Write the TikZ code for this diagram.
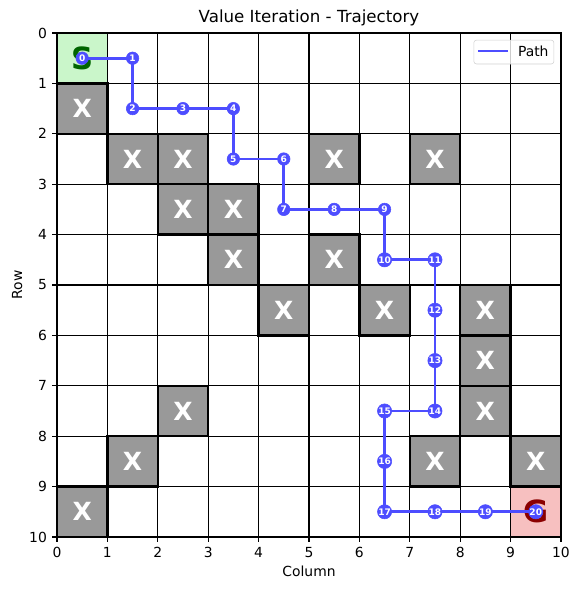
\documentclass[tikz,border=0pt]{standalone}
\usepackage{fontspec}
\setmainfont{DejaVu Sans}
\usetikzlibrary{calc}

\definecolor{startfill}{RGB}{202,246,202}
\definecolor{startedge}{RGB}{40,120,40}
\definecolor{goalfill}{RGB}{247,192,192}
\definecolor{goaledge}{RGB}{180,50,50}
\definecolor{trailblue}{RGB}{77,77,255}

\tikzset{
  cellwall/.style={fill=black!40, draw=black, line width=1.7pt},
  wallmark/.style={text=white, font=\fontsize{18}{18}\selectfont\bfseries},
  trail/.style={draw=trailblue, line width=2pt, line cap=round},
  stepdot/.style={circle, fill=trailblue, draw=trailblue, inner sep=0pt, minimum size=9pt,
    text=white, font=\fontsize{6.5}{7}\selectfont\bfseries},
  ticklbl/.style={font=\fontsize{10}{12}\selectfont, inner sep=0pt},
}

\begin{document}
\begin{tikzpicture}[x=1.2755cm, y=-1.2755cm]
  \useasboundingbox (-1.131,-0.655) rectangle (10.377,11.052);

  % Start and goal cells
  \draw[fill=startfill, draw=startedge, line width=0.8pt] (0,0) rectangle (1,1);
  \draw[fill=goalfill, draw=goaledge, line width=0.8pt] (9,9) rectangle (10,10);

  % Grid lines
  \foreach \k in {1,...,9} {
    \draw[line width=0.8pt] (\k,0) -- (\k,10);
    \draw[line width=0.8pt] (0,\k) -- (10,\k);
  }

  % Obstacles (col/row)
  \foreach \c/\r in {0/1, 1/2, 2/2, 5/2, 7/2, 2/3, 3/3, 3/4, 5/4, 4/5, 6/5, 8/5,
                     8/6, 2/7, 8/7, 1/8, 7/8, 9/8, 0/9} {
    \draw[cellwall] (\c,\r) rectangle (\c+1,\r+1);
    \node[wallmark] (w\c\r) at (\c+0.5,\r+0.5) {X};
  }

  % Start / goal letters
  \node[text={rgb,255:red,0;green,100;blue,0}, font=\fontsize{22}{22}\selectfont\bfseries] (start) at (0.5,0.5) {S};
  \node[text={rgb,255:red,139;green,0;blue,0}, font=\fontsize{22}{22}\selectfont\bfseries] (goal) at (9.5,9.5) {G};

  % Trajectory: way points, then line, then numbered dots
  \foreach \c/\r [count=\i from 0] in {0/0, 1/0, 1/1, 2/1, 3/1, 3/2, 4/2, 4/3, 5/3, 6/3, 6/4,
                                       7/4, 7/5, 7/6, 7/7, 6/7, 6/8, 6/9, 7/9, 8/9, 9/9} {
    \coordinate (s\i) at (\c+0.5,\r+0.5);
  }
  \foreach \i [evaluate=\i as \j using int(\i+1)] in {0,...,19} {
    \draw[trail] (s\i) -- (s\j);
  }
  \foreach \i in {0,...,20} {
    \node[stepdot] (d\i) at (s\i) {\i};
  }

  % Axes frame and ticks
  \draw[line width=0.8pt] (0,0) rectangle (10,10);
  \foreach \k in {0,...,10} {
    \draw[line width=0.8pt] (\k,10) -- (\k,10.0965);
    \node[ticklbl, anchor=north] (xt\k) at (\k,10.195) {\k};
    \draw[line width=0.8pt] (0,\k) -- (-0.0965,\k);
    \node[ticklbl, anchor=east] (yt\k) at (-0.195,\k) {\k};
  }
  \node[font=\fontsize{10}{12}\selectfont] (xlab) at (5,10.69) {Column};
  \node[font=\fontsize{10}{12}\selectfont, rotate=90] (ylab) at (-0.79,5) {Row};
  \node[font=\fontsize{12}{14}\selectfont] (title) at (5,-0.30) {Value Iteration - Trajectory};

  % Legend
  \draw[rounded corners=2pt, draw=black!18, fill=white, fill opacity=0.8] (8.27,0.14) rectangle (9.86,0.615);
  \coordinate (la) at (8.35,0.357);
  \coordinate (lb) at (8.95,0.357);
  \draw[trail, line cap=butt] (la) -- (lb);
  \node[font=\fontsize{10}{12}\selectfont] (legtxt) at (9.45,0.357) {Path};
\end{tikzpicture}
\end{document}
